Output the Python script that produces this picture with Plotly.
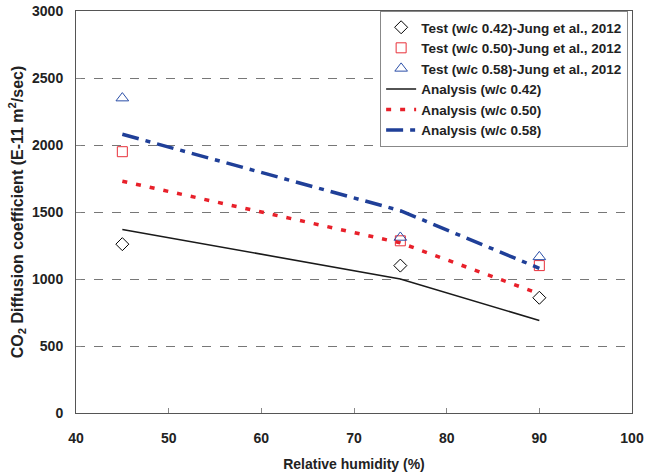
import plotly.graph_objects as go

rh_test = [45, 75, 90]
test_042 = [1260, 1100, 860]
test_050 = [1950, 1285, 1100]
test_058 = [2350, 1310, 1165]

rh_an = [45, 75, 90]
an_042 = [1370, 1000, 690]
an_050 = [1730, 1270, 890]
an_058 = [2080, 1510, 1080]

FONT = "Liberation Sans"

fig = go.Figure()
fig.add_trace(go.Scatter(x=rh_test, y=test_042, mode="markers", name="Test (w/c 0.42)-Jung et al., 2012",
                         marker=dict(symbol="diamond-open", size=10, color="black", line=dict(width=1))))
fig.add_trace(go.Scatter(x=rh_test, y=test_050, mode="markers", name="Test (w/c 0.50)-Jung et al., 2012",
                         marker=dict(symbol="square-open", size=10, color="#e8303a", line=dict(width=1))))
fig.add_trace(go.Scatter(x=rh_test, y=test_058, mode="markers", name="Test (w/c 0.58)-Jung et al., 2012",
                         marker=dict(symbol="triangle-up-open", size=11, color="#2b4fa8", line=dict(width=1))))
fig.add_trace(go.Scatter(x=rh_an, y=an_042, mode="lines", name="Analysis (w/c 0.42)",
                         line=dict(color="#1a1a1a", width=1.6)))
fig.add_trace(go.Scatter(x=rh_an, y=an_050, mode="lines", name="Analysis (w/c 0.50)",
                         line=dict(color="#e8202a", width=3.5, dash="5px,9px")))
fig.add_trace(go.Scatter(x=rh_an, y=an_058, mode="lines", name="Analysis (w/c 0.58)",
                         line=dict(color="#1f3f98", width=3.5, dash="17px,7px,5px,7px")))

fig.update_layout(
    width=656, height=474,
    margin=dict(l=76, r=24, t=11, b=61),
    paper_bgcolor="white", plot_bgcolor="white",
    font=dict(family=FONT, size=13, color="#222"),
    showlegend=True,
    legend=dict(x=0.547, y=1.0, xanchor="left", yanchor="top",
                bgcolor="white", bordercolor="#888", borderwidth=1,
                font=dict(family=FONT, size=13.5, color="#222", weight="bold"),
                tracegroupgap=0, itemwidth=30),
    xaxis=dict(range=[40, 100], tickvals=[40, 50, 60, 70, 80, 90, 100],
               ticks="inside", ticklen=5, tickcolor="#888",
               showline=True, linecolor="#555", linewidth=1, mirror=True,
               showgrid=False, zeroline=False, ticklabelstandoff=12, automargin=False,
               tickfont=dict(family=FONT, size=14, weight="bold"),
               title=dict(text="Relative humidity (%)", standoff=14,
                          font=dict(family=FONT, size=14, weight="bold"))),
    yaxis=dict(range=[0, 3000], tickvals=[0, 500, 1000, 1500, 2000, 2500, 3000],
               ticks="inside", ticklen=5, tickcolor="#888",
               showline=True, linecolor="#555", linewidth=1, mirror=True,
               showgrid=True, gridcolor="#777", griddash="dash", gridwidth=1,
               zeroline=False, ticklabelstandoff=9, automargin=False,
               tickfont=dict(family=FONT, size=14, weight="bold"),
               title=dict(text="CO<sub>2</sub> Diffusion coefficient (E-11 m<sup>2</sup>/sec)", standoff=4,
                          font=dict(family=FONT, size=16, weight="bold"))),
)

fig.write_html("out.html")
